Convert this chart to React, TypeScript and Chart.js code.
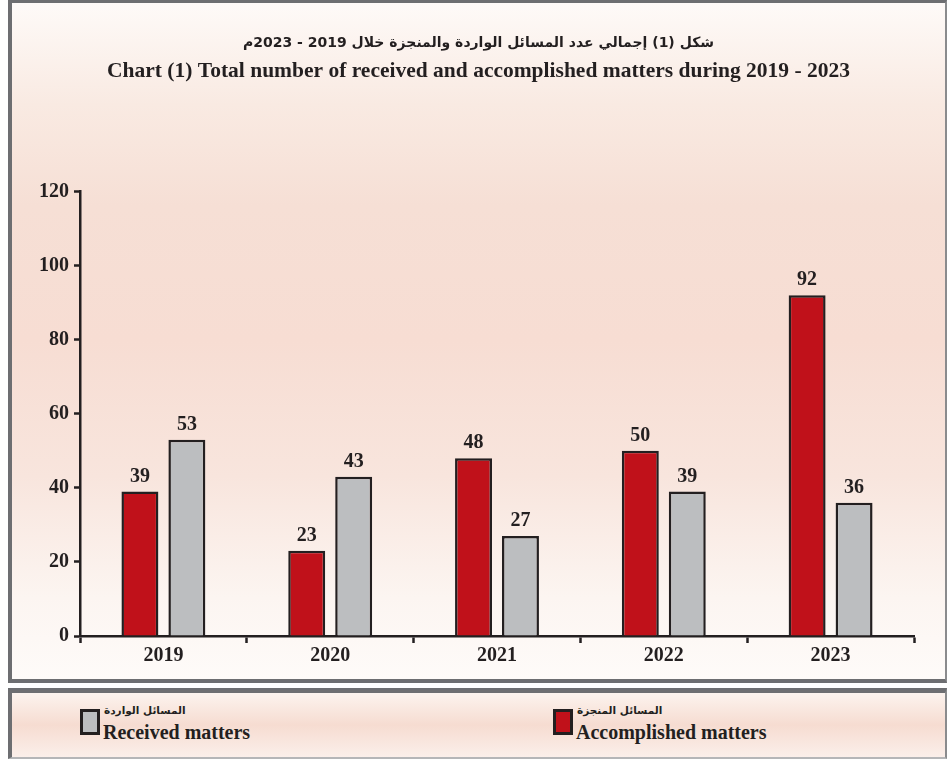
import React, { useEffect, useRef } from "react";
import { Chart, registerables } from "chart.js";

Chart.register(...registerables);

const years = ["2019", "2020", "2021", "2022", "2023"];
const accomplished = [39, 23, 48, 50, 92];
const received = [53, 43, 27, 39, 36];
const titleAr = "شكل (1) إجمالي عدد المسائل الواردة والمنجزة خلال 2019 - 2023م";
const titleEn = "Chart (1) Total number of received and accomplished matters during 2019 - 2023";
const accomplishedLabelAr = "المسائل المنجزة";
const accomplishedLabelEn = "Accomplished matters";
const receivedLabelAr = "المسائل الواردة";
const receivedLabelEn = "Received matters";

const RED = "#c0111a";
const GRAY = "#bcbec0";
const DARK = "#231f20";
const FONT = "'Liberation Serif', 'DejaVu Sans', serif";
const AR_FONT = "'DejaVu Sans', sans-serif";

const valueLabels = {
  id: "valueLabels",
  afterDatasetsDraw(chart: any) {
    const ctx = chart.ctx;
    ctx.save();
    ctx.font = `bold 20px ${FONT}`;
    ctx.fillStyle = DARK;
    ctx.textAlign = "center";
    ctx.textBaseline = "alphabetic";
    chart.data.datasets.forEach((ds: any, i: number) => {
      const meta = chart.getDatasetMeta(i);
      meta.data.forEach((bar: any, j: number) => {
        ctx.fillText(String(ds.data[j]), bar.x, bar.y - 10);
      });
    });
    ctx.restore();
  },
};

export default function App() {
  const ref = useRef<HTMLCanvasElement>(null);
  useEffect(() => {
    if (!ref.current) return;
    const chart = new Chart(ref.current, {
      type: "bar",
      data: {
        labels: years,
        datasets: [
          {
            label: accomplishedLabelEn,
            data: accomplished,
            backgroundColor: RED,
            borderColor: DARK,
            borderWidth: 2.5,
            categoryPercentage: 0.563,
            barPercentage: 0.787,
          },
          {
            label: receivedLabelEn,
            data: received,
            backgroundColor: GRAY,
            borderColor: DARK,
            borderWidth: 2.5,
            categoryPercentage: 0.563,
            barPercentage: 0.787,
          },
        ],
      },
      options: {
        animation: false,
        responsive: false,
        maintainAspectRatio: false,
        layout: { padding: 0 },
        plugins: {
          legend: { display: false },
          tooltip: { enabled: false },
          title: {
            display: true,
            text: titleAr,
            color: DARK,
            font: { family: AR_FONT, size: 14, weight: "bold", lineHeight: 1.4 },
            padding: { top: 34, bottom: 0 },
          },
          subtitle: {
            display: true,
            text: titleEn,
            color: DARK,
            font: { family: FONT, size: 21.5, weight: "bold", lineHeight: 1.3 },
            padding: { top: 4, bottom: 106 },
          },
        },
        scales: {
          x: {
            afterFit: (s: any) => {
              s.height = 47;
            },
            grid: {
              display: true,
              drawOnChartArea: false,
              drawTicks: true,
              tickLength: 7,
              tickColor: DARK,
              tickWidth: 2.5,
            },
            border: { display: true, color: DARK, width: 2.5 },
            ticks: {
              color: DARK,
              padding: 1,
              font: { family: FONT, size: 20, weight: "bold" },
            },
          },
          y: {
            min: 0,
            max: 120,
            afterFit: (s: any) => {
              s.width = 68;
            },
            grid: {
              display: true,
              drawOnChartArea: false,
              drawTicks: true,
              tickLength: 6,
              tickColor: DARK,
              tickWidth: 2.5,
            },
            border: { display: true, color: DARK, width: 2.5 },
            ticks: {
              stepSize: 20,
              color: DARK,
              padding: 5,
              font: { family: FONT, size: 20, weight: "bold" },
            },
          },
          yRightSpace: {
            position: "right",
            display: true,
            min: 0,
            max: 120,
            afterFit: (s: any) => {
              s.width = 31;
            },
            grid: { display: false, drawTicks: false },
            border: { display: false },
            ticks: { display: false },
          },
        },
      },
      plugins: [valueLabels],
    });
    return () => chart.destroy();
  }, []);

  const swatch = (color: string) => ({
    position: "absolute" as const,
    width: 20,
    height: 26,
    boxSizing: "border-box" as const,
    border: `3px solid ${DARK}`,
    background: color,
  });
  const arStyle = {
    position: "absolute" as const,
    fontFamily: AR_FONT,
    fontWeight: "bold" as const,
    fontSize: 10.5,
    color: DARK,
    direction: "rtl" as const,
    whiteSpace: "nowrap" as const,
  };
  const enStyle = {
    position: "absolute" as const,
    fontFamily: FONT,
    fontWeight: "bold" as const,
    fontSize: 20,
    color: DARK,
    whiteSpace: "nowrap" as const,
  };

  return (
    <div style={{ position: "fixed", left: 0, top: 0, width: 947, height: 759, background: "#ffffff", overflow: "hidden" }}>
      <div
        style={{
          position: "absolute",
          left: 8,
          top: 0,
          width: 939,
          height: 683,
          boxSizing: "border-box",
          borderLeft: "4px solid #6d6e71",
          borderTop: "3px solid #6d6e71",
          borderBottom: "4px solid #6d6e71",
          borderRight: "2px solid #8a8b8d",
          background:
            "linear-gradient(to bottom, #fefaf8 0%, #f9eae2 15%, #f6dfd5 30%, #f7ddd3 50%, #f8e5dd 70%, #fcf5f1 88%, #fefbf9 100%)",
        }}
      />
      <canvas ref={ref} width={933} height={683} style={{ position: "absolute", left: 12, top: 0, width: 933, height: 683 }} />
      <div
        style={{
          position: "absolute",
          left: 8,
          top: 688,
          width: 939,
          height: 71,
          boxSizing: "border-box",
          borderLeft: "4px solid #6d6e71",
          borderTop: "5px solid #6d6e71",
          borderRight: "2px solid #8a8b8d",
          borderBottom: "2px solid #b5b6b8",
          background: "linear-gradient(to bottom, #fcf3ee 0%, #f6dcd1 50%, #fbefea 100%)",
        }}
      />
      <div style={{ ...swatch(GRAY), left: 80, top: 709 }} />
      <div style={{ ...arStyle, left: 104, top: 704 }}>{receivedLabelAr}</div>
      <div style={{ ...enStyle, left: 103, top: 721 }}>{receivedLabelEn}</div>
      <div style={{ ...swatch(RED), left: 553, top: 709 }} />
      <div style={{ ...arStyle, left: 577, top: 704 }}>{accomplishedLabelAr}</div>
      <div style={{ ...enStyle, left: 576, top: 721 }}>{accomplishedLabelEn}</div>
    </div>
  );
}
